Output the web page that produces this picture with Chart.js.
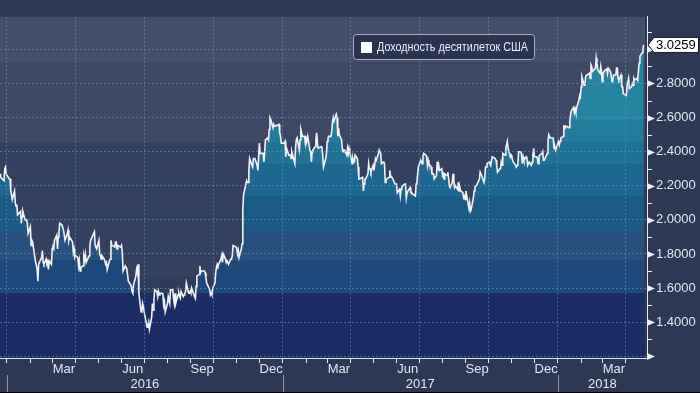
<!DOCTYPE html>
<html><head><meta charset="utf-8">
<script src="https://cdn.jsdelivr.net/npm/chart.js@4.4.1/dist/chart.umd.min.js"></script>
<style>html,body{margin:0;padding:0;background:#2d3854;overflow:hidden}#wrap{width:700px;height:393px}</style>
</head><body><div id="wrap"><canvas id="c" width="700" height="393"></canvas></div>
<script>
const seriesLabel = 'Доходность десятилеток США';

const dates = [
'2015-12-21','2015-12-22','2015-12-23','2015-12-24','2015-12-28','2015-12-29','2015-12-30','2015-12-31',
'2016-01-04','2016-01-05','2016-01-06','2016-01-07','2016-01-08','2016-01-11','2016-01-12','2016-01-13','2016-01-14','2016-01-15','2016-01-19','2016-01-20','2016-01-21','2016-01-22','2016-01-25','2016-01-26','2016-01-27','2016-01-28','2016-01-29',
'2016-02-01','2016-02-02','2016-02-03','2016-02-04','2016-02-05','2016-02-08','2016-02-09','2016-02-10','2016-02-11','2016-02-12','2016-02-16','2016-02-17','2016-02-18','2016-02-19','2016-02-22','2016-02-23','2016-02-24','2016-02-25','2016-02-26','2016-02-29',
'2016-03-01','2016-03-02','2016-03-03','2016-03-04','2016-03-07','2016-03-08','2016-03-09','2016-03-10','2016-03-11','2016-03-14','2016-03-15','2016-03-16','2016-03-17','2016-03-18','2016-03-21','2016-03-22','2016-03-23','2016-03-24','2016-03-28','2016-03-29','2016-03-30','2016-03-31',
'2016-04-01','2016-04-04','2016-04-05','2016-04-06','2016-04-07','2016-04-08','2016-04-11','2016-04-12','2016-04-13','2016-04-14','2016-04-15','2016-04-18','2016-04-19','2016-04-20','2016-04-21','2016-04-22','2016-04-25','2016-04-26','2016-04-27','2016-04-28','2016-04-29',
'2016-05-02','2016-05-03','2016-05-04','2016-05-05','2016-05-06','2016-05-09','2016-05-10','2016-05-11','2016-05-12','2016-05-13','2016-05-16','2016-05-17','2016-05-18','2016-05-19','2016-05-20','2016-05-23','2016-05-24','2016-05-25','2016-05-26','2016-05-27','2016-05-31',
'2016-06-01','2016-06-02','2016-06-03','2016-06-06','2016-06-07','2016-06-08','2016-06-09','2016-06-10','2016-06-13','2016-06-14','2016-06-15','2016-06-16','2016-06-17','2016-06-20','2016-06-21','2016-06-22','2016-06-23','2016-06-24','2016-06-27','2016-06-28','2016-06-29','2016-06-30',
'2016-07-01','2016-07-05','2016-07-06','2016-07-07','2016-07-08','2016-07-11','2016-07-12','2016-07-13','2016-07-14','2016-07-15','2016-07-18','2016-07-19','2016-07-20','2016-07-21','2016-07-22','2016-07-25','2016-07-26','2016-07-27','2016-07-28','2016-07-29',
'2016-08-01','2016-08-02','2016-08-03','2016-08-04','2016-08-05','2016-08-08','2016-08-09','2016-08-10','2016-08-11','2016-08-12','2016-08-15','2016-08-16','2016-08-17','2016-08-18','2016-08-19','2016-08-22','2016-08-23','2016-08-24','2016-08-25','2016-08-26','2016-08-29','2016-08-30','2016-08-31',
'2016-09-01','2016-09-02','2016-09-06','2016-09-07','2016-09-08','2016-09-09','2016-09-12','2016-09-13','2016-09-14','2016-09-15','2016-09-16','2016-09-19','2016-09-20','2016-09-21','2016-09-22','2016-09-23','2016-09-26','2016-09-27','2016-09-28','2016-09-29','2016-09-30',
'2016-10-03','2016-10-04','2016-10-05','2016-10-06','2016-10-07','2016-10-11','2016-10-12','2016-10-13','2016-10-14','2016-10-17','2016-10-18','2016-10-19','2016-10-20','2016-10-21','2016-10-24','2016-10-25','2016-10-26','2016-10-27','2016-10-28','2016-10-31',
'2016-11-01','2016-11-02','2016-11-03','2016-11-04','2016-11-07','2016-11-08','2016-11-09','2016-11-10','2016-11-14','2016-11-15','2016-11-16','2016-11-17','2016-11-18','2016-11-21','2016-11-22','2016-11-23','2016-11-25','2016-11-28','2016-11-29','2016-11-30',
'2016-12-01','2016-12-02','2016-12-05','2016-12-06','2016-12-07','2016-12-08','2016-12-09','2016-12-12','2016-12-13','2016-12-14','2016-12-15','2016-12-16','2016-12-19','2016-12-20','2016-12-21','2016-12-22','2016-12-23','2016-12-27','2016-12-28','2016-12-29','2016-12-30',
'2017-01-03','2017-01-04','2017-01-05','2017-01-06','2017-01-09','2017-01-10','2017-01-11','2017-01-12','2017-01-13','2017-01-17','2017-01-18','2017-01-19','2017-01-20','2017-01-23','2017-01-24','2017-01-25','2017-01-26','2017-01-27','2017-01-30','2017-01-31',
'2017-02-01','2017-02-02','2017-02-03','2017-02-06','2017-02-07','2017-02-08','2017-02-09','2017-02-10','2017-02-13','2017-02-14','2017-02-15','2017-02-16','2017-02-17','2017-02-21','2017-02-22','2017-02-23','2017-02-24','2017-02-27','2017-02-28',
'2017-03-01','2017-03-02','2017-03-03','2017-03-06','2017-03-07','2017-03-08','2017-03-09','2017-03-10','2017-03-13','2017-03-14','2017-03-15','2017-03-16','2017-03-17','2017-03-20','2017-03-21','2017-03-22','2017-03-23','2017-03-24','2017-03-27','2017-03-28','2017-03-29','2017-03-30','2017-03-31',
'2017-04-03','2017-04-04','2017-04-05','2017-04-06','2017-04-07','2017-04-10','2017-04-11','2017-04-12','2017-04-13','2017-04-17','2017-04-18','2017-04-19','2017-04-20','2017-04-21','2017-04-24','2017-04-25','2017-04-26','2017-04-27','2017-04-28',
'2017-05-01','2017-05-02','2017-05-03','2017-05-04','2017-05-05','2017-05-08','2017-05-09','2017-05-10','2017-05-11','2017-05-12','2017-05-15','2017-05-16','2017-05-17','2017-05-18','2017-05-19','2017-05-22','2017-05-23','2017-05-24','2017-05-25','2017-05-26','2017-05-30','2017-05-31',
'2017-06-01','2017-06-02','2017-06-05','2017-06-06','2017-06-07','2017-06-08','2017-06-09','2017-06-12','2017-06-13','2017-06-14','2017-06-15','2017-06-16','2017-06-19','2017-06-20','2017-06-21','2017-06-22','2017-06-23','2017-06-26','2017-06-27','2017-06-28','2017-06-29','2017-06-30',
'2017-07-03','2017-07-05','2017-07-06','2017-07-07','2017-07-10','2017-07-11','2017-07-12','2017-07-13','2017-07-14','2017-07-17','2017-07-18','2017-07-19','2017-07-20','2017-07-21','2017-07-24','2017-07-25','2017-07-26','2017-07-27','2017-07-28','2017-07-31',
'2017-08-01','2017-08-02','2017-08-03','2017-08-04','2017-08-07','2017-08-08','2017-08-09','2017-08-10','2017-08-11','2017-08-14','2017-08-15','2017-08-16','2017-08-17','2017-08-18','2017-08-21','2017-08-22','2017-08-23','2017-08-24','2017-08-25','2017-08-28','2017-08-29','2017-08-30','2017-08-31',
'2017-09-01','2017-09-05','2017-09-06','2017-09-07','2017-09-08','2017-09-11','2017-09-12','2017-09-13','2017-09-14','2017-09-15','2017-09-18','2017-09-19','2017-09-20','2017-09-21','2017-09-22','2017-09-25','2017-09-26','2017-09-27','2017-09-28','2017-09-29',
'2017-10-02','2017-10-03','2017-10-04','2017-10-05','2017-10-06','2017-10-10','2017-10-11','2017-10-12','2017-10-13','2017-10-16','2017-10-17','2017-10-18','2017-10-19','2017-10-20','2017-10-23','2017-10-24','2017-10-25','2017-10-26','2017-10-27','2017-10-30','2017-10-31',
'2017-11-01','2017-11-02','2017-11-03','2017-11-06','2017-11-07','2017-11-08','2017-11-09','2017-11-10','2017-11-13','2017-11-14','2017-11-15','2017-11-16','2017-11-17','2017-11-20','2017-11-21','2017-11-22','2017-11-24','2017-11-27','2017-11-28','2017-11-29','2017-11-30',
'2017-12-01','2017-12-04','2017-12-05','2017-12-06','2017-12-07','2017-12-08','2017-12-11','2017-12-12','2017-12-13','2017-12-14','2017-12-15','2017-12-18','2017-12-19','2017-12-20','2017-12-21','2017-12-22','2017-12-26','2017-12-27','2017-12-28','2017-12-29',
'2018-01-02','2018-01-03','2018-01-04','2018-01-05','2018-01-08','2018-01-09','2018-01-10','2018-01-11','2018-01-12','2018-01-16','2018-01-17','2018-01-18','2018-01-19','2018-01-22','2018-01-23','2018-01-24','2018-01-25','2018-01-26','2018-01-29','2018-01-30','2018-01-31',
'2018-02-01','2018-02-02','2018-02-05','2018-02-06','2018-02-07','2018-02-08','2018-02-09','2018-02-12','2018-02-13','2018-02-14','2018-02-15','2018-02-16','2018-02-20','2018-02-21','2018-02-22','2018-02-23','2018-02-26','2018-02-27','2018-02-28',
'2018-03-01','2018-03-02','2018-03-05','2018-03-06','2018-03-07','2018-03-08','2018-03-09','2018-03-12','2018-03-13','2018-03-14','2018-03-15','2018-03-16','2018-03-19','2018-03-20','2018-03-21','2018-03-22','2018-03-23','2018-03-26','2018-03-27','2018-03-28','2018-03-29',
'2018-04-02','2018-04-03','2018-04-04','2018-04-05','2018-04-06','2018-04-09','2018-04-10','2018-04-11','2018-04-12','2018-04-13','2018-04-16','2018-04-17','2018-04-18','2018-04-19','2018-04-20','2018-04-23','2018-04-24','2018-04-25'
];

const yields = [
2.20,2.25,2.27,2.25,2.23,2.30,2.31,2.27,
2.24,2.24,2.17,2.15,2.12,2.17,2.10,2.08,2.09,2.03,2.05,1.98,2.02,2.05,2.00,2.00,2.00,1.98,1.92,
1.96,1.85,1.88,1.87,1.84,1.75,1.73,1.71,1.64,1.74,1.78,1.82,1.75,1.74,1.77,1.74,1.75,1.71,1.76,1.74,
1.83,1.84,1.83,1.88,1.91,1.83,1.90,1.93,1.98,1.97,1.97,1.94,1.91,1.88,1.92,1.94,1.88,1.90,1.87,1.81,1.83,1.78,
1.79,1.78,1.73,1.76,1.70,1.72,1.73,1.79,1.77,1.80,1.75,1.78,1.79,1.85,1.88,1.89,1.92,1.93,1.85,1.84,1.83,
1.88,1.80,1.79,1.77,1.79,1.77,1.77,1.74,1.75,1.71,1.76,1.77,1.88,1.85,1.85,1.84,1.87,1.87,1.83,1.85,1.84,
1.85,1.81,1.70,1.73,1.72,1.71,1.68,1.64,1.62,1.61,1.58,1.57,1.62,1.67,1.71,1.69,1.74,1.57,1.46,1.47,1.51,1.49,
1.46,1.37,1.38,1.40,1.36,1.43,1.51,1.47,1.53,1.59,1.58,1.55,1.58,1.56,1.57,1.57,1.56,1.50,1.52,1.46,
1.51,1.55,1.55,1.51,1.59,1.59,1.54,1.51,1.57,1.51,1.56,1.57,1.55,1.54,1.58,1.55,1.56,1.57,1.58,1.63,1.57,1.57,1.58,
1.57,1.60,1.55,1.54,1.61,1.67,1.68,1.73,1.69,1.70,1.70,1.70,1.69,1.66,1.63,1.62,1.59,1.56,1.57,1.56,1.60,
1.63,1.69,1.72,1.74,1.73,1.77,1.79,1.75,1.80,1.77,1.75,1.76,1.76,1.74,1.77,1.77,1.79,1.85,1.85,1.84,
1.83,1.80,1.82,1.78,1.83,1.86,2.07,2.15,2.23,2.22,2.22,2.29,2.36,2.32,2.31,2.36,2.36,2.32,2.29,2.37,
2.45,2.39,2.39,2.39,2.34,2.40,2.47,2.48,2.47,2.53,2.60,2.59,2.54,2.56,2.55,2.55,2.55,2.56,2.51,2.49,2.45,
2.45,2.46,2.37,2.42,2.38,2.38,2.38,2.36,2.40,2.33,2.43,2.47,2.48,2.41,2.47,2.53,2.51,2.49,2.49,2.45,
2.48,2.47,2.49,2.41,2.40,2.34,2.40,2.41,2.43,2.47,2.51,2.45,2.42,2.43,2.42,2.38,2.31,2.36,2.39,
2.46,2.48,2.49,2.49,2.52,2.57,2.60,2.58,2.62,2.60,2.49,2.54,2.50,2.47,2.42,2.40,2.41,2.41,2.38,2.42,2.39,2.42,2.40,
2.33,2.36,2.34,2.34,2.38,2.36,2.31,2.24,2.24,2.25,2.17,2.21,2.24,2.24,2.27,2.33,2.30,2.30,2.28,
2.32,2.29,2.32,2.36,2.35,2.39,2.41,2.41,2.39,2.33,2.34,2.33,2.22,2.23,2.24,2.25,2.29,2.26,2.25,2.25,2.21,2.21,
2.21,2.16,2.18,2.14,2.18,2.19,2.20,2.21,2.21,2.13,2.16,2.16,2.19,2.16,2.16,2.15,2.15,2.14,2.21,2.22,2.27,2.31,
2.35,2.33,2.37,2.39,2.38,2.37,2.32,2.35,2.33,2.31,2.27,2.27,2.27,2.24,2.26,2.34,2.29,2.32,2.29,2.30,
2.26,2.27,2.24,2.27,2.26,2.28,2.25,2.20,2.19,2.22,2.27,2.23,2.19,2.20,2.18,2.22,2.17,2.19,2.17,2.16,2.13,2.14,2.12,
2.17,2.07,2.10,2.05,2.06,2.13,2.17,2.19,2.20,2.20,2.23,2.24,2.28,2.28,2.26,2.22,2.24,2.31,2.31,2.33,
2.34,2.33,2.32,2.35,2.37,2.36,2.35,2.32,2.28,2.30,2.30,2.34,2.32,2.39,2.38,2.42,2.44,2.46,2.42,2.37,2.38,
2.37,2.35,2.34,2.32,2.31,2.32,2.33,2.40,2.40,2.38,2.33,2.37,2.35,2.37,2.36,2.32,2.34,2.32,2.34,2.38,2.42,
2.37,2.37,2.36,2.33,2.37,2.38,2.39,2.40,2.35,2.35,2.35,2.39,2.46,2.50,2.49,2.48,2.48,2.42,2.43,2.41,
2.46,2.44,2.46,2.48,2.49,2.55,2.55,2.54,2.55,2.54,2.58,2.62,2.64,2.66,2.63,2.65,2.63,2.66,2.70,2.73,2.72,
2.78,2.84,2.79,2.80,2.84,2.85,2.85,2.86,2.83,2.91,2.90,2.87,2.89,2.95,2.92,2.88,2.86,2.90,2.87,
2.81,2.86,2.88,2.88,2.89,2.86,2.89,2.87,2.84,2.81,2.82,2.85,2.85,2.89,2.89,2.83,2.82,2.85,2.78,2.78,2.74,
2.73,2.79,2.79,2.83,2.77,2.78,2.80,2.79,2.83,2.82,2.83,2.82,2.87,2.92,2.96,2.98,3.00,3.0259
];

const yTickValues = [1.2, 1.4, 1.6, 1.8, 2.0, 2.2, 2.4, 2.6, 2.8, 3.0];
const yLabelValues = [1.4, 1.6, 1.8, 2.0, 2.2, 2.4, 2.6, 2.8, 3.0];
const monthLabels = ['Mar','Jun','Sep','Dec','Mar','Jun','Sep','Dec','Mar'];
const monthLabelMonths = ['2016-03','2016-06','2016-09','2016-12','2017-03','2017-06','2017-09','2017-12','2018-03'];
const yearLabels = ['2016','2017','2018'];
const yearStarts = ['2016-01-01','2017-01-01','2018-01-01'];

// ---- styling ----
const FONT = '"Liberation Sans", Arial, sans-serif';
const X_EPOCH = Date.UTC(2016, 0, 1);
function dayOf(s){ const p = s.split('-').map(Number); return (Date.UTC(p[0], p[1]-1, p[2] || 1) - X_EPOCH) / 864e5; }
const X_MIN = -9.29, X_MAX = 849.4, Y_MIN = 1.19, Y_MAX = 3.191;
const gridColor = 'rgba(105,160,200,0.5)';
const fillBands = [[2.587,'#24849f'],[2.459,'#227c9b'],[2.325,'#207394'],[2.140,'#1e6790'],[1.933,'#1d5b87'],[1.766,'#28517e'],[1.570,'#1e477b'],[-Infinity,'#1c2d66']];
const bgBands = [[2.928,'#444f6b'],[2.459,'#3c4864'],[1.665,'#344060'],[1.570,'#2f3b5a'],[-Infinity,'#1c2d66']];
const LEGEND_TEXT_WIDTH = 151;

const monthTickDays = [], monthTickQuarter = [];
for (let yy = 2016, mm = 0; yy < 2018 || (yy === 2018 && mm <= 3);) {
  monthTickDays.push((Date.UTC(yy, mm, 1) - X_EPOCH) / 864e5);
  monthTickQuarter.push(mm % 3 === 0);
  mm++; if (mm === 12) { mm = 0; yy++; }
}
const yMinorValues = yTickValues.map(v => v + 0.1);

const points = dates.map((d, i) => ({x: dayOf(d), y: yields[i]}));
const lastDay = points[points.length - 1].x;

function bandGradient(chart){
  const a = chart.chartArea; if (!a) return null;
  const y = chart.scales.y; const H = a.bottom - a.top;
  const g = chart.ctx.createLinearGradient(0, a.top, 0, a.bottom);
  let prev = 0;
  for (const [lo, col] of fillBands) {
    const p = lo === -Infinity ? 1 : Math.min(1, Math.max(0, (Math.round(y.getPixelForValue(lo)) - a.top) / H));
    g.addColorStop(prev, col); g.addColorStop(p, col); prev = p;
  }
  return g;
}

const decor = {
  id: 'decor',
  beforeDraw(chart){
    const {ctx, chartArea: a, scales: {x, y}} = chart;
    ctx.save();
    ctx.fillStyle = '#2d3854'; ctx.fillRect(0, 0, chart.width, chart.height);
    const right = Math.round(x.getPixelForValue(lastDay)) + 1;
    let top = a.top;
    for (const [lo, col] of bgBands) {
      const bottom = lo === -Infinity ? a.bottom : Math.round(y.getPixelForValue(lo));
      ctx.fillStyle = col; ctx.fillRect(a.left, top, right - a.left, bottom - top); top = bottom;
    }
    ctx.restore();
  },
  afterDraw(chart){
    const {ctx, chartArea: a, scales: {x, y}} = chart;
    ctx.save();
    // y tick markers
    ctx.fillStyle = '#eef0f4'; ctx.strokeStyle = '#eef0f4'; ctx.lineWidth = 1;
    yTickValues.forEach(v => {
      const py = Math.round(y.getPixelForValue(v)) + 0.5;
      ctx.beginPath(); ctx.moveTo(a.right, py - 3.5); ctx.lineTo(a.right + 8, py); ctx.lineTo(a.right, py + 3.5); ctx.closePath(); ctx.fill();
    });
    yMinorValues.forEach(v => {
      const py = Math.round(y.getPixelForValue(v)) + 0.5;
      if (py < a.top) return;
      ctx.beginPath(); ctx.moveTo(a.right, py); ctx.lineTo(a.right + 5, py); ctx.stroke();
    });
    // x labels
    ctx.font = '13px ' + FONT; ctx.fillStyle = '#e4e8f0'; ctx.textAlign = 'center'; ctx.textBaseline = 'middle';
    monthLabelMonths.forEach((m, i) => {
      const [yy, mo] = m.split('-').map(Number);
      const s = (Date.UTC(yy, mo - 1, 1) - X_EPOCH) / 864e5, e = (Date.UTC(yy, mo, 1) - X_EPOCH) / 864e5;
      ctx.fillText(monthLabels[i], (x.getPixelForValue(s) + x.getPixelForValue(e)) / 2, a.bottom + 11);
    });
    yearLabels.forEach((lab, i) => {
      const s = x.getPixelForValue(dayOf(yearStarts[i]));
      const e = i + 1 < yearStarts.length ? x.getPixelForValue(dayOf(yearStarts[i + 1])) : a.right;
      ctx.fillStyle = '#e4e8f0';
      ctx.fillText(lab, (s + e) / 2, a.bottom + 26);
      ctx.fillStyle = '#8a90a2';
      ctx.fillRect(Math.round(s), a.bottom + 17, 1, chart.height - a.bottom - 17);
    });
    // legend
    ctx.font = '12px ' + FONT;
    const tw = ctx.measureText(seriesLabel).width;
    const sx = Math.min(1, LEGEND_TEXT_WIDTH / tw);
    const lx = 353.5, ly = 34.5, lw = Math.round(tw * sx) + 30, lh = 25;
    ctx.beginPath(); ctx.roundRect(lx, ly, lw, lh, 3);
    ctx.fillStyle = '#2a3350'; ctx.fill(); ctx.strokeStyle = '#a9afbf'; ctx.lineWidth = 1; ctx.stroke();
    ctx.fillStyle = '#ffffff'; ctx.fillRect(361, 42, 11, 11);
    ctx.fillStyle = '#eceef4'; ctx.textAlign = 'left'; ctx.textBaseline = 'middle';
    ctx.save(); ctx.translate(377, 47.5); ctx.scale(sx, 1);
    ctx.fillText(seriesLabel, 0, 0);
    ctx.restore();
    // last value box
    const last = yields[yields.length - 1];
    const py = y.getPixelForValue(last);
    ctx.beginPath();
    ctx.moveTo(a.right + 1, py); ctx.lineTo(a.right + 7, py - 7.5); ctx.lineTo(698.5, py - 7.5);
    ctx.lineTo(698.5, py + 7.5); ctx.lineTo(a.right + 7, py + 7.5); ctx.closePath();
    ctx.fillStyle = '#ffffff'; ctx.fill(); ctx.strokeStyle = '#1a1a1a'; ctx.stroke();
    ctx.fillStyle = '#000000'; ctx.font = '13px ' + FONT; ctx.textBaseline = 'middle';
    ctx.fillText(last.toFixed(4), a.right + 9, py + 0.5);
    // bottom frame line
    ctx.fillStyle = '#000000'; ctx.fillRect(0, chart.height - 1, chart.width, 1);
    ctx.restore();
  }
};

Chart.defaults.font.family = FONT;
new Chart(document.getElementById('c'), {
  type: 'line',
  data: { datasets: [{
    label: seriesLabel, data: points,
    borderColor: '#f2f2f2', borderWidth: 1.6, pointRadius: 0, tension: 0,
    fill: 'start', backgroundColor: ctx => bandGradient(ctx.chart)
  }]},
  options: {
    responsive: false, animation: false, events: [],
    layout: { padding: 0 },
    plugins: { legend: { display: false }, tooltip: { enabled: false } },
    scales: {
      x: {
        type: 'linear', min: X_MIN, max: X_MAX,
        afterBuildTicks: s => { s.ticks = monthTickDays.map(v => ({value: v})); },
        afterFit: s => { s.height = 35; },
        ticks: { display: false },
        grid: { z: 1, color: c => (monthTickQuarter[c.index] ? gridColor : 'rgba(0,0,0,0)'), tickColor: '#e8e8e8', tickLength: 5, drawTicks: true, lineWidth: 1 },
        border: { z: 2, display: true, color: '#e8e8e8', width: 1, dash: [2, 2] }
      },
      y: {
        type: 'linear', position: 'right', min: Y_MIN, max: Y_MAX,
        afterBuildTicks: s => { s.ticks = yTickValues.map(v => ({value: v})); },
        afterFit: s => { s.width = 53; },
        ticks: { z: 2, padding: 9, color: '#e4e8f0', font: { size: 13, family: FONT },
          callback: v => (yLabelValues.includes(v) ? v.toFixed(4) : '') },
        grid: { z: 1, color: gridColor, drawTicks: false, lineWidth: 1 },
        border: { z: 2, display: true, color: '#e8e8e8', width: 1, dash: [2, 2] }
      }
    }
  },
  plugins: [decor]
});
</script>
</body></html>
